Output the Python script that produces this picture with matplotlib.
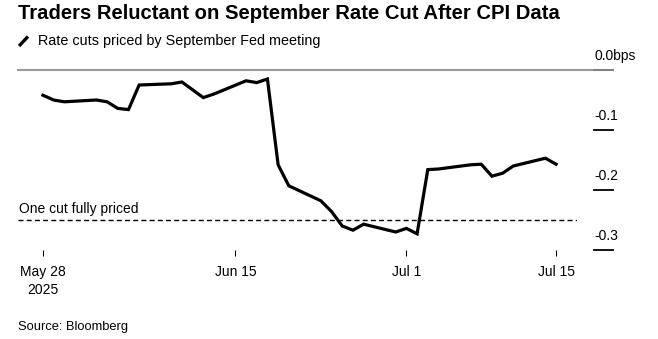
import numpy as np
import pandas as pd
import matplotlib
matplotlib.use("Agg")
import matplotlib.pyplot as plt
import matplotlib.dates as mdates

plt.rcParams['font.family'] = ['Liberation Sans', 'DejaVu Sans']

# rate cuts priced by September Fed meeting (weekdays)
dates = ["2025-05-28", "2025-05-29", "2025-05-30", "2025-06-02", "2025-06-03",
         "2025-06-04", "2025-06-05", "2025-06-06", "2025-06-09", "2025-06-10",
         "2025-06-11", "2025-06-12", "2025-06-13", "2025-06-16", "2025-06-17",
         "2025-06-18", "2025-06-19", "2025-06-20", "2025-06-23", "2025-06-24",
         "2025-06-25", "2025-06-26", "2025-06-27", "2025-06-30", "2025-07-01",
         "2025-07-02", "2025-07-03", "2025-07-04", "2025-07-07", "2025-07-08",
         "2025-07-09", "2025-07-10", "2025-07-11", "2025-07-14", "2025-07-15"]
cuts_priced = [-0.042, -0.050, -0.053, -0.050, -0.053,
               -0.064, -0.066, -0.025, -0.023, -0.020,
               -0.033, -0.046, -0.040, -0.018, -0.021,
               -0.015, -0.158, -0.193, -0.218, -0.236,
               -0.260, -0.267, -0.257, -0.270, -0.264,
               -0.273, -0.166, -0.165, -0.158, -0.157,
               -0.177, -0.172, -0.160, -0.147, -0.157]

one_cut_level = -0.25
y_ticks = [0.0, -0.1, -0.2, -0.3]
y_tick_labels = ["0.0bps", "-0.1", "-0.2", "-0.3"]
x_ticks = ["2025-05-28", "2025-06-15", "2025-07-01", "2025-07-15"]
x_tick_labels = ["May 28\n2025", "Jun 15", "Jul 1", "Jul 15"]

W, H = 658, 339


def fx(px):
    return px / W


def fy(py):
    return 1 - py / H


fig = plt.figure(figsize=(W / 100, H / 100), dpi=100)
ax = fig.add_axes([fx(18), fy(250), fx(577 - 18), (250 - 70) / H])

d = pd.to_datetime(dates)
ax.plot(d, cuts_priced, color='black', lw=2.3, solid_joinstyle='miter', zorder=3)

# zero gridline runs under the labels on the right
ax.plot([0, 1.065], [0, 0], transform=ax.get_yaxis_transform(), color='#9a9a9a',
        lw=1.5, clip_on=False, zorder=1)

ax.axhline(one_cut_level, color='black', lw=1.0, dashes=(3.6, 2.3), zorder=2)
ax.text(0.002, one_cut_level + 0.006, "One cut fully priced", transform=ax.get_yaxis_transform(),
        fontsize=10, va='bottom', ha='left')

ax.set_xlim(d[0] - pd.Timedelta(hours=56), d[-1] + pd.Timedelta(hours=47))
ax.set_ylim(-0.3, 0.0)

for s in ax.spines.values():
    s.set_visible(False)
ax.set_yticks([])
ax.set_xticks(pd.to_datetime(x_ticks))
ax.set_xticklabels(x_tick_labels, fontsize=10, linespacing=1.3)
ax.tick_params(axis='x', length=4, width=0.8, pad=7, color='black')

# right side value labels with short rules
for v, lab in zip(y_ticks, y_tick_labels):
    c = '#808080' if v == 0 else 'black'
    ax.plot([1.0305, 1.0645], [v, v], transform=ax.get_yaxis_transform(), color=c,
            lw=1.3, clip_on=False)
    ax.text(1.0315, v + 0.012, lab, transform=ax.get_yaxis_transform(),
            fontsize=10, ha='left', va='bottom')

fig.text(fx(18), fy(19), "Traders Reluctant on September Rate Cut After CPI Data",
         fontsize=14.6, fontweight='bold', ha='left', va='baseline')
fig.lines.append(plt.Line2D([fx(19), fx(28)], [fy(46), fy(36.5)], transform=fig.transFigure,
                            color='black', lw=2.4, solid_capstyle='butt'))
fig.text(fx(38), fy(45), "Rate cuts priced by September Fed meeting",
         fontsize=10.4, ha='left', va='baseline')
fig.text(fx(18), fy(330), "Source: Bloomberg", fontsize=9.3, ha='left', va='baseline')

fig.savefig("out.png", dpi=100)
